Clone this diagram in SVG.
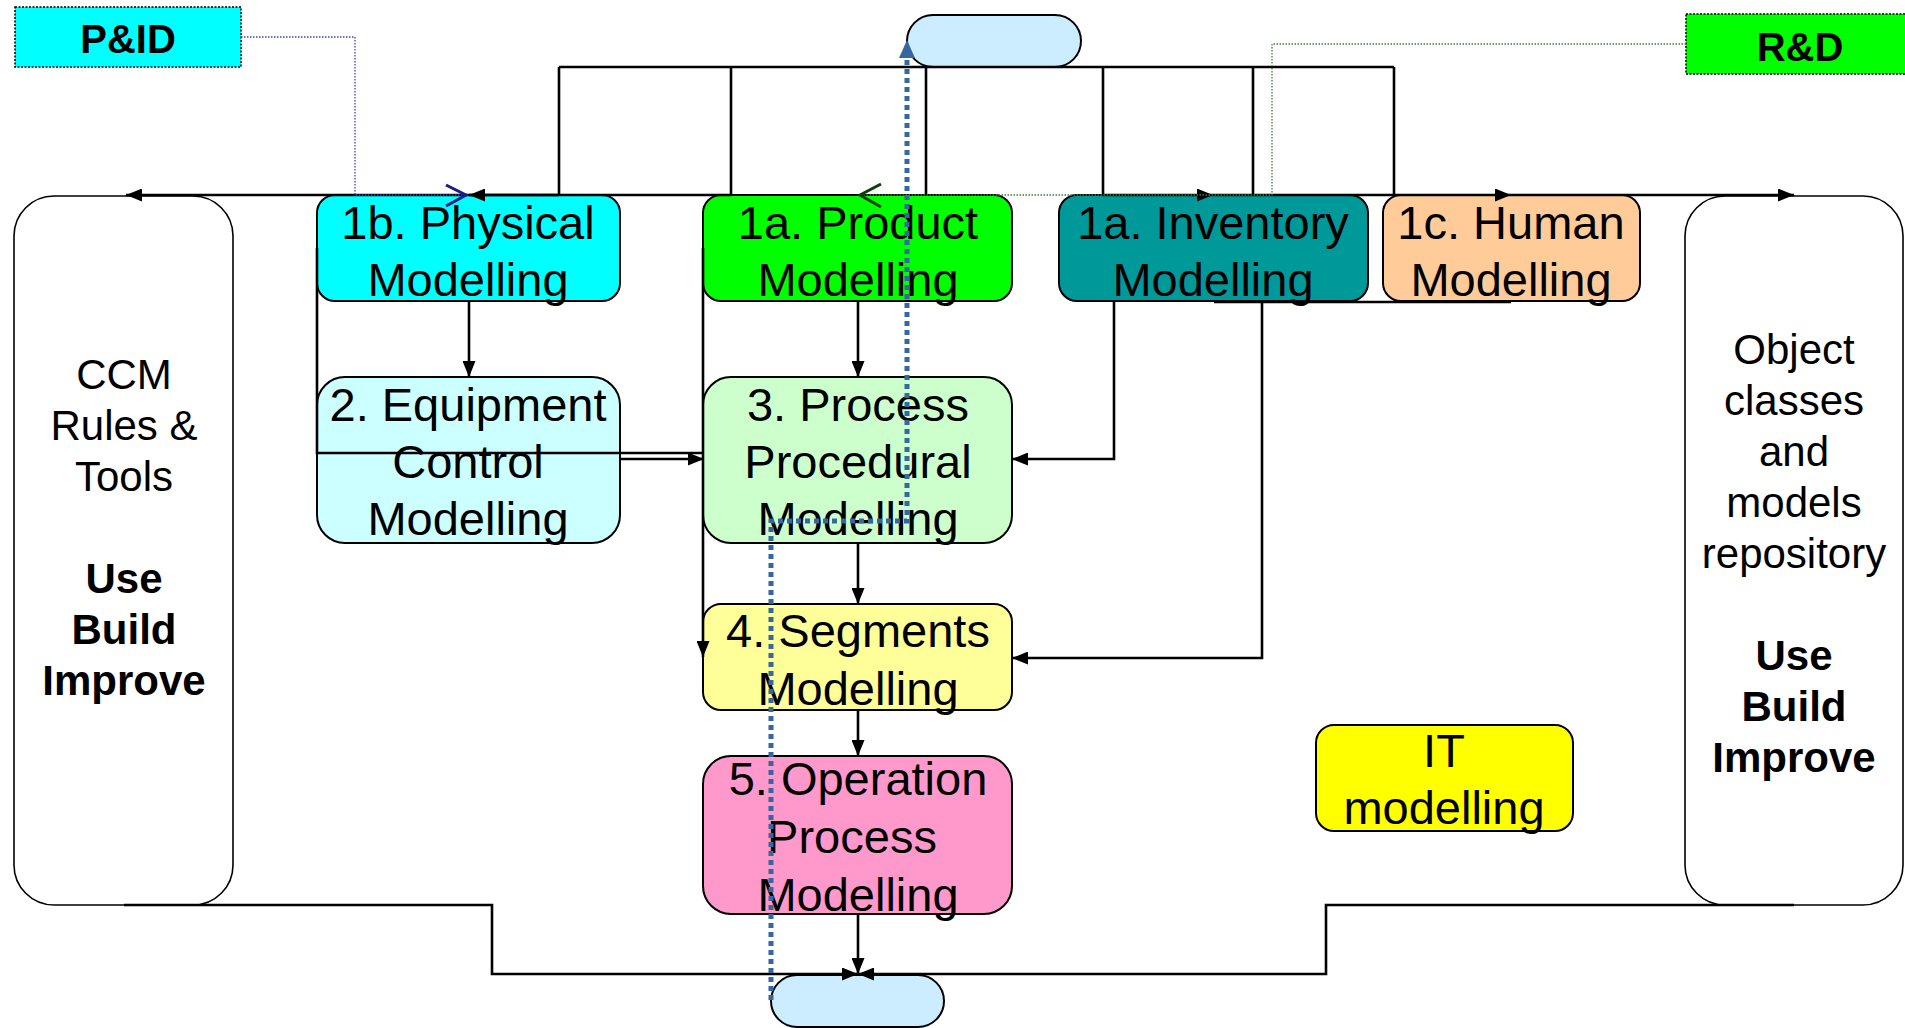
<svg xmlns="http://www.w3.org/2000/svg" width="1905" height="1028" viewBox="0 0 1905 1028">
<style>
.box{stroke:#000;stroke-width:2}
.lbl{font-family:"Liberation Sans",Arial,sans-serif;font-size:47px;text-anchor:middle;fill:#000}
.side{font-family:"Liberation Sans",Arial,sans-serif;font-size:42px;text-anchor:middle;fill:#000}
.b{font-weight:bold}
.tag{font-family:"Liberation Sans",Arial,sans-serif;font-size:40px;font-weight:bold;text-anchor:middle;fill:#000}
.c{fill:none;stroke:#000;stroke-width:2.6}
.a{marker-end:url(#arr)}
</style>
<defs>
<marker id="arr" viewBox="0 0 16 13" refX="16" refY="6.5" markerWidth="16" markerHeight="13" orient="auto" markerUnits="userSpaceOnUse"><path d="M0,0 L16,6.5 L0,13 z" fill="#000"/></marker>
</defs>
<rect width="1905" height="1028" fill="#fff"/>

<g id="pid"><rect x="15" y="7" width="226" height="60" fill="#00FFFF" stroke="#000" stroke-width="1.5" stroke-dasharray="2 1.5"/><text class="tag" x="128" y="53">P&amp;ID</text></g>
<g id="rd"><rect x="1686" y="14" width="230" height="60" fill="#00FF00" stroke="#000" stroke-width="1.5" stroke-dasharray="2 1.5"/><text class="tag" x="1800" y="61">R&amp;D</text></g>

<g id="top-oval"><rect class="box" x="907" y="15" width="174" height="52" rx="26" fill="#CCECFF"/></g>
<g id="bottom-oval"><rect class="box" x="771" y="975" width="173" height="52" rx="26" fill="#CCECFF"/></g>

<g id="ccm"><rect x="14" y="196" width="219" height="709" rx="40" fill="#fff" stroke="#000" stroke-width="1.6"/>
<text class="side" x="124" y="389">CCM</text><text class="side" x="124" y="440">Rules &amp;</text><text class="side" x="124" y="491">Tools</text>
<text class="side b" x="124" y="593">Use</text><text class="side b" x="124" y="644">Build</text><text class="side b" x="124" y="695">Improve</text></g>

<g id="repo"><rect x="1685" y="196" width="218" height="709" rx="40" fill="#fff" stroke="#000" stroke-width="1.6"/>
<text class="side" x="1794" y="364">Object</text><text class="side" x="1794" y="415">classes</text><text class="side" x="1794" y="466">and</text><text class="side" x="1794" y="517">models</text><text class="side" x="1794" y="568">repository</text>
<text class="side b" x="1794" y="670">Use</text><text class="side b" x="1794" y="721">Build</text><text class="side b" x="1794" y="772">Improve</text></g>

<g id="physical"><rect class="box" x="317" y="195" width="303" height="106" rx="18" fill="#00FFFF"/><text class="lbl" x="468" y="239">1b. Physical</text><text class="lbl" x="468" y="296">Modelling</text></g>
<g id="product"><rect class="box" x="703" y="195" width="309" height="106" rx="18" fill="#00FF00"/><text class="lbl" x="858" y="239">1a. Product</text><text class="lbl" x="858" y="296">Modelling</text></g>
<g id="inventory"><rect class="box" x="1059" y="195" width="309" height="106" rx="18" fill="#009999"/><text class="lbl" x="1213" y="239">1a. Inventory</text><text class="lbl" x="1213" y="296">Modelling</text></g>
<g id="human"><rect class="box" x="1383" y="195" width="257" height="106" rx="18" fill="#FFCC99"/><text class="lbl" x="1511" y="239">1c. Human</text><text class="lbl" x="1511" y="296">Modelling</text></g>

<g id="equipment"><rect class="box" x="317" y="377" width="303" height="166" rx="28" fill="#CCFFFF"/><text class="lbl" x="468" y="421">2. Equipment</text><text class="lbl" x="468" y="478">Control</text><text class="lbl" x="468" y="535">Modelling</text></g>
<g id="process"><rect class="box" x="703" y="377" width="309" height="166" rx="28" fill="#CCFFCC"/><text class="lbl" x="858" y="421">3. Process</text><text class="lbl" x="858" y="478">Procedural</text><text class="lbl" x="858" y="535">Modelling</text></g>
<g id="segments"><rect class="box" x="703" y="604" width="309" height="106" rx="18" fill="#FFFF99"/><text class="lbl" x="858" y="647">4. Segments</text><text class="lbl" x="858" y="705">Modelling</text></g>
<g id="operation"><rect class="box" x="703" y="756" width="309" height="158" rx="28" fill="#FF99CC"/><text class="lbl" x="858" y="795">5. Operation</text><text class="lbl" x="852" y="853">Process</text><text class="lbl" x="858" y="911">Modelling</text></g>
<g id="it"><rect class="box" x="1316" y="725" width="257" height="106" rx="18" fill="#FFFF00"/><text class="lbl" x="1444" y="767">IT</text><text class="lbl" x="1444" y="824">modelling</text></g>

<g id="connectors">
<path class="c" d="M559,67 H1394 M559,67 V195 M731,67 V195 M926,67 V195 M1103,67 V195 M1253,67 V195 M1394,67 V195"/>
<path class="c a" d="M731,195 H126"/>
<path class="c a" d="M559,195 H469"/>
<path class="c a" d="M1103,195 H1213"/>
<path class="c a" d="M1213,195 H1511"/>
<path class="c a" d="M1511,195 H1794"/>
<path class="c a" d="M469,301 V377"/>
<path class="c a" d="M858,301 V377"/>
<path class="c a" d="M858,543 V604"/>
<path class="c a" d="M858,710 V756"/>
<path class="c a" d="M858,914 V974"/>
<path class="c a" d="M124,905 H492 V974 H858"/>
<path class="c a" d="M1794,905 H1326 V974 H858"/>
<path class="c" d="M317,248 V453 H704"/>
<path class="c a" d="M620,459 H704"/>
<path class="c a" d="M703,248 V657"/>
<path class="c a" d="M1114,301 V459 H1012"/>
<path class="c" d="M1262,301 V459"/>
<path class="c a" d="M1262,459 V658 H1012"/>
<path class="c" d="M1511,302 H1214"/>
<path d="M241,37 H355 V195 H466" fill="none" stroke="#4444AA" stroke-width="1.3" stroke-dasharray="1.5 1.5"/>
<path d="M446,185 L466,195 L446,206" fill="none" stroke="#1a1a8c" stroke-width="3"/>
<path d="M1686,44 H1272 V195 H860" fill="none" stroke="#3d7a3d" stroke-width="1.3" stroke-dasharray="1.5 1.5"/>
<path d="M881,184 L860,195 L881,207" fill="none" stroke="#0a400a" stroke-width="3"/>
<path d="M771,1000 V521 H907 V57" fill="none" stroke="#36679E" stroke-width="5" stroke-dasharray="5 4"/>
<path d="M907,40 L915,58 L899,58 z" fill="#36679E"/>
</g>
</svg>
